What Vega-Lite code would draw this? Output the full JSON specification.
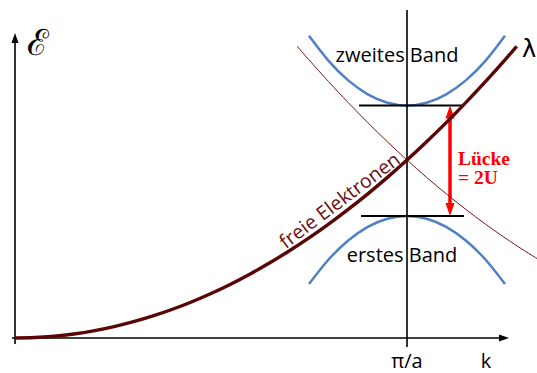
{
  "$schema": "https://vega.github.io/schema/vega-lite/v6.json",
  "width": 537,
  "height": 373,
  "autosize": "none",
  "padding": 0,
  "background": "white",
  "config": {"view": {"stroke": null}},
  "datasets": {
    "free": [
      {"k": 0, "E": 0}, {"k": 0.05, "E": 0.0025}, {"k": 0.1, "E": 0.01}, {"k": 0.15, "E": 0.0225},
      {"k": 0.2, "E": 0.04}, {"k": 0.25, "E": 0.0625}, {"k": 0.3, "E": 0.09}, {"k": 0.35, "E": 0.1225},
      {"k": 0.4, "E": 0.16}, {"k": 0.45, "E": 0.2025}, {"k": 0.5, "E": 0.25}, {"k": 0.55, "E": 0.3025},
      {"k": 0.6, "E": 0.36}, {"k": 0.65, "E": 0.4225}, {"k": 0.7, "E": 0.49}, {"k": 0.75, "E": 0.5625},
      {"k": 0.8, "E": 0.64}, {"k": 0.85, "E": 0.7225}, {"k": 0.9, "E": 0.81}, {"k": 0.95, "E": 0.9025},
      {"k": 1.0, "E": 1.0}, {"k": 1.05, "E": 1.1025}, {"k": 1.1, "E": 1.21}, {"k": 1.15, "E": 1.3225},
      {"k": 1.2, "E": 1.44}, {"k": 1.25, "E": 1.5625}, {"k": 1.28, "E": 1.6384}
    ],
    "shifted": [
      {"k": 0.72, "E": 1.6384}, {"k": 0.75, "E": 1.5625}, {"k": 0.8, "E": 1.44}, {"k": 0.85, "E": 1.3225},
      {"k": 0.9, "E": 1.21}, {"k": 0.95, "E": 1.1025}, {"k": 1.0, "E": 1.0}, {"k": 1.05, "E": 0.9025},
      {"k": 1.1, "E": 0.81}, {"k": 1.15, "E": 0.7225}, {"k": 1.2, "E": 0.64}, {"k": 1.25, "E": 0.5625},
      {"k": 1.3, "E": 0.49}, {"k": 1.335, "E": 0.4422}
    ],
    "upperBand": [
      {"k": 0.75, "E": 1.6983}, {"k": 0.8, "E": 1.557}, {"k": 0.85, "E": 1.4472}, {"k": 0.9, "E": 1.3688},
      {"k": 0.95, "E": 1.3217}, {"k": 1.0, "E": 1.306}, {"k": 1.05, "E": 1.3217}, {"k": 1.1, "E": 1.3688},
      {"k": 1.15, "E": 1.4472}, {"k": 1.2, "E": 1.557}, {"k": 1.25, "E": 1.6983}
    ],
    "lowerBand": [
      {"k": 0.75, "E": 0.3034}, {"k": 0.8, "E": 0.4409}, {"k": 0.85, "E": 0.5479}, {"k": 0.9, "E": 0.6243},
      {"k": 0.95, "E": 0.6701}, {"k": 1.0, "E": 0.6854}, {"k": 1.05, "E": 0.6701}, {"k": 1.1, "E": 0.6243},
      {"k": 1.15, "E": 0.5479}, {"k": 1.2, "E": 0.4409}, {"k": 1.25, "E": 0.3034}
    ]
  },
  "encoding": {
    "x": {"field": "k", "type": "quantitative", "axis": null,
          "scale": {"domain": [-0.03827, 1.33163], "nice": false, "zero": false}},
    "y": {"field": "E", "type": "quantitative", "axis": null,
          "scale": {"domain": [-0.19663, 1.89888], "nice": false, "zero": false}}
  },
  "layer": [
    {
      "data": {"name": "upperBand"},
      "mark": {"type": "line", "color": "#4f7fc6", "strokeWidth": 2.5, "interpolate": "natural", "clip": false}
    },
    {
      "data": {"name": "lowerBand"},
      "mark": {"type": "line", "color": "#4f7fc6", "strokeWidth": 2.5, "interpolate": "natural", "clip": false}
    },
    {
      "data": {"values": [
        {"k": 0.8776, "k2": 1.1403, "E": 1.306},
        {"k": 0.8827, "k2": 1.1454, "E": 0.6854}
      ]},
      "mark": {"type": "rule", "color": "black", "strokeWidth": 2},
      "encoding": {"x2": {"field": "k2"}}
    },
    {
      "data": {"values": [
        {"k": 1.0, "E": -0.0506, "E2": 1.8427},
        {"k": 0, "E": -0.034, "E2": 1.66}
      ]},
      "mark": {"type": "rule", "color": "black", "strokeWidth": 1.6},
      "encoding": {"y2": {"field": "E2"}}
    },
    {
      "data": {"values": [{"k": -0.0077, "k2": 1.24, "E": 0}]},
      "mark": {"type": "rule", "color": "black", "strokeWidth": 1.6},
      "encoding": {"x2": {"field": "k2"}}
    },
    {
      "data": {"values": [{"k": 0, "E": 1.7135}]},
      "mark": {"type": "point", "shape": "M0,0L0.7,2L-0.7,2Z", "size": 100, "filled": true, "color": "black", "opacity": 1, "strokeWidth": 0}
    },
    {
      "data": {"values": [{"k": 1.2602, "E": 0}]},
      "mark": {"type": "point", "shape": "M0,0L-2,0.7L-2,-0.7Z", "size": 100, "filled": true, "color": "black", "opacity": 1, "strokeWidth": 0}
    },
    {
      "data": {"values": [{"k": 1.1097, "E": 0.74, "E2": 1.25}]},
      "mark": {"type": "rule", "color": "#ff0000", "strokeWidth": 3.5},
      "encoding": {"y2": {"field": "E2"}}
    },
    {
      "data": {"values": [{"k": 1.1097, "E": 1.306}]},
      "mark": {"type": "point", "shape": "M0,0L0.7,2L-0.7,2Z", "size": 169, "filled": true, "color": "#ff0000", "opacity": 1, "strokeWidth": 0}
    },
    {
      "data": {"values": [{"k": 1.1097, "E": 0.6854}]},
      "mark": {"type": "point", "shape": "M0,0L0.7,-2L-0.7,-2Z", "size": 169, "filled": true, "color": "#ff0000", "opacity": 1, "strokeWidth": 0}
    },
    {
      "data": {"name": "shifted"},
      "mark": {"type": "line", "color": "#7a1414", "strokeWidth": 1, "interpolate": "natural", "clip": false}
    },
    {
      "data": {"name": "free"},
      "mark": {"type": "line", "color": "#5a0606", "strokeWidth": 3.4, "interpolate": "natural", "clip": false}
    },
    {
      "data": {"values": [
        {"k": 0.9745, "E": 1.5506, "label": "zweites Band"},
        {"k": 0.9872, "E": 0.427, "label": "erstes Band"}
      ]},
      "mark": {"type": "text", "font": "Open Sans", "fontSize": 20, "align": "center", "baseline": "alphabetic", "color": "black"},
      "encoding": {"text": {"field": "label"}}
    },
    {
      "data": {"values": [
        {"k": 1.0, "E": -0.1685, "label": "π/a"},
        {"k": 1.2015, "E": -0.1685, "label": "k"}
      ]},
      "mark": {"type": "text", "font": "Open Sans", "fontSize": 20, "align": "center", "baseline": "alphabetic", "color": "black"},
      "encoding": {"text": {"field": "label"}}
    },
    {
      "data": {"values": [{"k": 1.3112, "E": 1.618, "label": "λ"}]},
      "mark": {"type": "text", "font": "DejaVu Sans", "fontSize": 24, "align": "center", "baseline": "middle", "color": "black"},
      "encoding": {"text": {"field": "label"}}
    },
    {
      "data": {"values": [{"k": 0.0306, "E": 1.6517, "label": "ℰ"}]},
      "mark": {"type": "text", "font": "DejaVu Serif", "fontSize": 36, "align": "left", "baseline": "middle", "color": "black"},
      "encoding": {"text": {"field": "label"}}
    },
    {
      "data": {"values": [
        {"k": 1.1301, "E": 0.9719, "label": "Lücke"},
        {"k": 1.1301, "E": 0.8624, "label": "= 2U"}
      ]},
      "mark": {"type": "text", "font": "Liberation Serif", "fontSize": 19.5, "fontWeight": "bold", "align": "left", "baseline": "alphabetic", "color": "#ff0000"},
      "encoding": {"text": {"field": "label"}}
    },
    {
      "data": {"values": [{"k": 0.8291, "E": 0.7697, "label": "freie Elektronen"}]},
      "mark": {"type": "text", "font": "Open Sans", "fontSize": 19.5, "angle": 323, "align": "center", "baseline": "middle", "color": "#6b0d0d"},
      "encoding": {"text": {"field": "label"}}
    }
  ]
}
